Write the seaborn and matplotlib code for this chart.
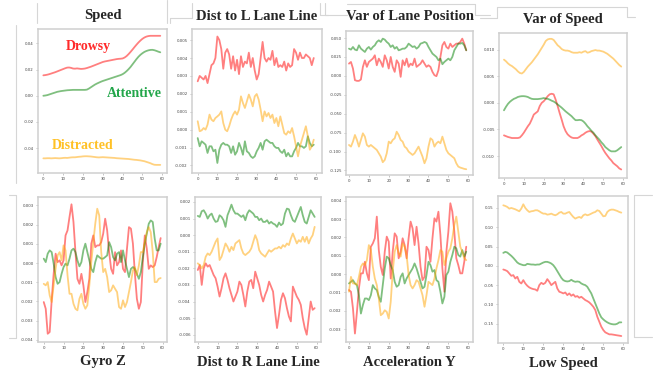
import numpy as np
import pandas as pd
import seaborn as sns
import matplotlib.pyplot as plt
from matplotlib.lines import Line2D

sns.set_style('white')
plt.rcParams['font.family'] = ['Liberation Serif', 'DejaVu Serif']
plt.rcParams['axes.unicode_minus'] = False

# 每个面板三条曲线：Drowsy(红) / Attentive(绿) / Distracted(橙)
speed_drowsy = [0.0156, 0.0158, 0.0161, 0.0165, 0.0170, 0.0175, 0.0180, 0.0186, 0.0192, 0.0198,
                0.0204, 0.0210, 0.0215, 0.0216, 0.0213, 0.0208, 0.0207, 0.0209, 0.0207, 0.0205,
                0.0206, 0.0208, 0.0212, 0.0217, 0.0222, 0.0228, 0.0234, 0.0240, 0.0246, 0.0252,
                0.0258, 0.0262, 0.0265, 0.0268, 0.0271, 0.0274, 0.0277, 0.0280, 0.0282, 0.0283,
                0.0285, 0.0292, 0.0303, 0.0318, 0.0335, 0.0353, 0.0372, 0.0390, 0.0407, 0.0422,
                0.0435, 0.0445, 0.0452, 0.0456, 0.0458, 0.0458, 0.0458, 0.0458, 0.0458, 0.0458]
speed_attentive = [0.0000, 0.0002, 0.0005, 0.0010, 0.0015, 0.0020, 0.0025, 0.0030, 0.0033, 0.0036,
                   0.0038, 0.0040, 0.0042, 0.0043, 0.0044, 0.0045, 0.0045, 0.0045, 0.0045, 0.0045,
                   0.0045, 0.0045, 0.0047, 0.0055, 0.0065, 0.0075, 0.0085, 0.0093, 0.0100, 0.0107,
                   0.0113, 0.0118, 0.0123, 0.0128, 0.0133, 0.0138, 0.0143, 0.0148, 0.0153, 0.0158,
                   0.0165, 0.0175, 0.0188, 0.0203, 0.0220, 0.0240, 0.0260, 0.0280, 0.0298, 0.0313,
                   0.0325, 0.0335, 0.0342, 0.0347, 0.0350, 0.0351, 0.0348, 0.0343, 0.0337, 0.0332]
speed_distracted = [-0.0478, -0.0478, -0.0477, -0.0477, -0.0478, -0.0477, -0.0476, -0.0477, -0.0478, -0.0477,
                    -0.0475, -0.0474, -0.0475, -0.0473, -0.0471, -0.0470, -0.0470, -0.0468, -0.0466, -0.0465,
                    -0.0463, -0.0462, -0.0462, -0.0463, -0.0464, -0.0466, -0.0468, -0.0470, -0.0471, -0.0470,
                    -0.0469, -0.0470, -0.0471, -0.0472, -0.0473, -0.0474, -0.0475, -0.0477, -0.0478, -0.0479,
                    -0.0480, -0.0481, -0.0482, -0.0483, -0.0485, -0.0487, -0.0489, -0.0490, -0.0492, -0.0494,
                    -0.0497, -0.0500, -0.0505, -0.0510, -0.0515, -0.0522, -0.0527, -0.0528, -0.0528, -0.0528]

distl_drowsy = [0.0027, 0.0030, 0.0029, 0.0028, 0.0030, 0.0026, 0.0031, 0.0036, 0.0037, 0.0040,
                0.0052, 0.0050, 0.0045, 0.0034, 0.0043, 0.0045, 0.0042, 0.0034, 0.0041, 0.0033,
                0.0039, 0.0031, 0.0041, 0.0035, 0.0038, 0.0037, 0.0043, 0.0035, 0.0040, 0.0033,
                0.0028, 0.0031, 0.0040, 0.0049, 0.0040, 0.0038, 0.0040, 0.0039, 0.0044, 0.0036,
                0.0040, 0.0035, 0.0036, 0.0035, 0.0038, 0.0033, 0.0037, 0.0035, 0.0036, 0.0045,
                0.0043, 0.0039, 0.0043, 0.0040, 0.0040, 0.0042, 0.0041, 0.0040, 0.0036, 0.0040]
distl_attentive = [-0.00047, -0.00093, -0.00065, -0.00074, -0.00084, -0.00130, -0.00093, -0.00093, -0.00121, -0.00112,
                   -0.00186, -0.00112, -0.00084, -0.00074, -0.00084, -0.00084, -0.00093, -0.00130, -0.00093, -0.00140,
                   -0.00121, -0.00074, -0.00102, -0.00140, -0.00065, -0.00121, -0.00130, -0.00149, -0.00158, -0.00149,
                   -0.00121, -0.00102, -0.00074, -0.00112, -0.00065, -0.00056, -0.00065, -0.00074, -0.00074, -0.00093,
                   -0.00102, -0.00102, -0.00121, -0.00130, -0.00112, -0.00149, -0.00130, -0.00149, -0.00149, -0.00121,
                   -0.00102, -0.00074, -0.00093, -0.00093, -0.00102, -0.00093, -0.00037, -0.00074, -0.00093, -0.00084]
distl_distracted = [0.00047, -0.00009, -0.00004, 0.00009, 0.00000, 0.00028, 0.00084, 0.00056, 0.00047, 0.00065,
                    0.00074, 0.00084, 0.00102, 0.00037, 0.00000, -0.00009, 0.00019, 0.00056, 0.00084, 0.00102,
                    0.00084, 0.00112, 0.00186, 0.00149, 0.00121, 0.00158, 0.00196, 0.00168, 0.00130, 0.00186,
                    0.00199, 0.00168, 0.00112, 0.00047, 0.00102, 0.00074, 0.00093, 0.00065, 0.00084, 0.00037,
                    0.00065, 0.00019, 0.00074, 0.00028, -0.00019, -0.00028, -0.00009, -0.00019, 0.00009, -0.00037,
                    -0.00093, -0.00149, -0.00093, -0.00056, -0.00019, 0.00019, -0.00037, -0.00112, -0.00093, -0.00056]

varlane_drowsy = [0.0162, 0.0184, 0.0097, -0.0057, -0.0066, -0.0066, -0.0048, 0.0119, 0.0206, 0.0119,
                  0.0184, 0.0206, 0.0228, 0.0272, 0.0140, 0.0228, 0.0184, 0.0119, 0.0272, 0.0206,
                  0.0097, 0.0250, 0.0119, 0.0053, 0.0206, 0.0162, -0.0013, 0.0206, 0.0140, 0.0228,
                  0.0119, 0.0162, 0.0140, 0.0228, 0.0119, 0.0140, 0.0162, 0.0206, 0.0162, 0.0119,
                  0.0140, 0.0119, 0.0053, 0.0009, -0.0004, 0.0075, 0.0250, 0.0404, 0.0448, 0.0382,
                  0.0360, 0.0426, 0.0382, 0.0404, 0.0426, 0.0426, 0.0448, 0.0492, 0.0426, 0.0338]
varlane_attentive = [0.0360, 0.0347, 0.0382, 0.0347, 0.0338, 0.0404, 0.0360, 0.0338, 0.0316, 0.0360,
                     0.0382, 0.0347, 0.0382, 0.0404, 0.0448, 0.0470, 0.0448, 0.0492, 0.0479, 0.0448,
                     0.0426, 0.0382, 0.0404, 0.0360, 0.0382, 0.0338, 0.0347, 0.0360, 0.0360, 0.0382,
                     0.0426, 0.0404, 0.0382, 0.0391, 0.0360, 0.0382, 0.0426, 0.0435, 0.0448, 0.0435,
                     0.0382, 0.0338, 0.0294, 0.0272, 0.0250, 0.0206, 0.0228, 0.0154, 0.0184, 0.0206,
                     0.0228, 0.0206, 0.0250, 0.0338, 0.0382, 0.0426, 0.0426, 0.0435, 0.0404, 0.0338]
varlane_distracted = [-0.0913, -0.0935, -0.0869, -0.0781, -0.0847, -0.0935, -0.0847, -0.0759, -0.0803, -0.0913,
                      -0.0935, -0.0913, -0.0935, -0.0957, -0.0979, -0.1023, -0.1067, -0.1141, -0.1111, -0.1023,
                      -0.0869, -0.0891, -0.0847, -0.0825, -0.0738, -0.0781, -0.0847, -0.0869, -0.0935, -0.0957,
                      -0.1001, -0.1023, -0.1045, -0.1023, -0.0979, -0.0935, -0.1001, -0.1067, -0.1155, -0.1089,
                      -0.0935, -0.0825, -0.0847, -0.0935, -0.0891, -0.0869, -0.0891, -0.0803, -0.0891, -0.0979,
                      -0.1023, -0.1045, -0.1067, -0.1089, -0.1155, -0.1199, -0.1212, -0.1220, -0.1229, -0.1234]

varspeed_drowsy = [-0.0061, -0.00625, -0.0064, -0.0065, -0.0066, -0.0066, -0.0066, -0.0066, -0.0065, -0.0061,
                   -0.0056, -0.0050, -0.0044, -0.0039, -0.0031, -0.0022, -0.0019, -0.0016, -0.0006, 0.0000,
                   0.0003, 0.00075, 0.00125, 0.0016, 0.0017, 0.0016, 0.0006, -0.0006, -0.0019, -0.0031,
                   -0.0044, -0.0053, -0.0059, -0.00625, -0.0065, -0.0066, -0.0066, -0.0066, -0.0064, -0.0061,
                   -0.0059, -0.0056, -0.0054, -0.0053, -0.0054, -0.0058, -0.00625, -0.0069, -0.0075, -0.0081,
                   -0.0088, -0.0094, -0.0099, -0.0104, -0.0108, -0.0113, -0.0116, -0.0119, -0.0123, -0.0125]
varspeed_attentive = [-0.0014, -0.00075, -0.0002, 0.0002, 0.0005, 0.00075, 0.0009, 0.0011, 0.0012, 0.00125,
                      0.00125, 0.0012, 0.0011, 0.0009, 0.00075, 0.0007, 0.0007, 0.0007, 0.00075, 0.0008,
                      0.0009, 0.0008, 0.00075, 0.0006, 0.0004, 0.00025, 0.0000, -0.0003, -0.0006, -0.0009,
                      -0.00125, -0.0016, -0.0019, -0.0022, -0.0025, -0.0029, -0.00325, -0.00325, -0.0032, -0.00325,
                      -0.0035, -0.0039, -0.0044, -0.0048, -0.00525, -0.0056, -0.0061, -0.0065, -0.0069, -0.0074,
                      -0.0078, -0.0083, -0.0086, -0.0089, -0.0091, -0.0091, -0.0091, -0.0089, -0.0086, -0.0083]
varspeed_distracted = [0.0081, 0.0078, 0.0074, 0.0071, 0.0069, 0.0066, 0.0063, 0.0059, 0.0056, 0.0055,
                       0.0058, 0.0063, 0.0068, 0.0072, 0.0076, 0.0081, 0.0086, 0.0091, 0.0097, 0.0103,
                       0.0109, 0.0116, 0.0119, 0.0120, 0.0120, 0.0118, 0.0113, 0.0108, 0.0105, 0.0101,
                       0.0099, 0.0098, 0.0098, 0.0097, 0.0095, 0.0094, 0.0094, 0.0094, 0.0095, 0.0094,
                       0.0096, 0.0097, 0.0094, 0.0095, 0.0097, 0.0098, 0.0099, 0.0098, 0.0098, 0.0097,
                       0.0096, 0.0094, 0.0092, 0.0089, 0.0086, 0.0083, 0.0079, 0.0075, 0.0071, 0.0068]

gyro_drowsy = [-0.00203, -0.00238, -0.00368, -0.00359, -0.00194, -0.00056, 0.00049, 0.00005, 0.00014, -0.00012,
               0.00014, 0.00144, 0.00170, 0.00240, 0.00306, 0.00214, 0.00057, -0.00082, -0.00108, -0.00056,
               -0.00116, -0.00203, -0.00151, -0.00082, 0.00101, 0.00144, 0.00083, 0.00092, 0.00092, 0.00109,
               0.00153, 0.00231, 0.00170, 0.00057, -0.00030, -0.00056, 0.00057, -0.00012, 0.00005, 0.00066,
               -0.00030, -0.00047, 0.00075, 0.00187, 0.00179, 0.00101, -0.00056, -0.00186, -0.00238, -0.00203,
               0.00005, 0.00144, 0.00075, -0.00030, -0.00012, -0.00021, -0.00012, 0.00031, 0.00083, 0.00130]
gyro_attentive = [0.00023, 0.00005, 0.00049, 0.00066, 0.00057, -0.00003, -0.00073, -0.00108, -0.00099, -0.00056,
                  -0.00021, -0.00003, -0.00012, 0.00023, 0.00066, 0.00075, 0.00057, 0.00014, -0.00017, 0.00005,
                  0.00066, 0.00101, 0.00057, 0.00014, -0.00030, -0.00047, 0.00005, 0.00040, 0.00031, 0.00023,
                  0.00023, 0.00031, 0.00040, 0.00109, 0.00083, 0.00031, 0.00014, 0.00049, 0.00057, 0.00005,
                  0.00066, 0.00014, -0.00030, -0.00073, -0.00030, -0.00021, -0.00030, -0.00056, -0.00082, -0.00047,
                  0.00031, 0.00101, 0.00153, 0.00205, 0.00222, 0.00214, 0.00127, 0.00066, 0.00066, 0.00101]
gyro_distracted = [-0.00108, -0.00116, -0.00099, -0.00168, -0.00203, -0.00116, -0.00030, 0.00040, 0.00057, 0.00014,
                   0.00092, 0.00066, -0.00064, -0.00160, -0.00160, -0.00212, -0.00238, -0.00246, -0.00186, -0.00160,
                   -0.00212, -0.00238, -0.00220, -0.00116, 0.00005, 0.00109, 0.00205, 0.00283, 0.00248, 0.00057,
                   -0.00047, -0.00030, -0.00073, -0.00151, -0.00142, -0.00116, -0.00134, -0.00151, -0.00229, -0.00238,
                   -0.00194, -0.00229, -0.00203, -0.00151, -0.00099, -0.00038, -0.00021, -0.00064, -0.00012, 0.00057,
                   0.00057, 0.00109, 0.00161, 0.00187, 0.00161, 0.00057, -0.00099, -0.00099, -0.00082, -0.00078]

distr_drowsy = [-0.0021, -0.0018, -0.0030, -0.0020, -0.0017, -0.0019, -0.0018, -0.0021, -0.0024, -0.0026,
                -0.0031, -0.0037, -0.0032, -0.0026, -0.0023, -0.0027, -0.0032, -0.0036, -0.0040, -0.0037,
                -0.0034, -0.0028, -0.0030, -0.0036, -0.0043, -0.0034, -0.0028, -0.0027, -0.0032, -0.0022,
                -0.0026, -0.0030, -0.0036, -0.0040, -0.0036, -0.0033, -0.0028, -0.0031, -0.0034, -0.0046,
                -0.0056, -0.0048, -0.0039, -0.0035, -0.0038, -0.0044, -0.0049, -0.0052, -0.0031, -0.0034,
                -0.0037, -0.0039, -0.0042, -0.0050, -0.0056, -0.0060, -0.0050, -0.0040, -0.0045, -0.0044]
distr_attentive = [0.00116, 0.0011, 0.00144, 0.0015, 0.0013, 0.0010, 0.0012, 0.0013, 0.0010, 0.0008,
                   0.00084, 0.0012, 0.0011, 0.0009, 0.0005, 0.0012, 0.0015, 0.00184, 0.0015, 0.0013,
                   0.0013, 0.0012, 0.0011, 0.0012, 0.0009, 0.0013, 0.0015, 0.0014, 0.0013, 0.0011,
                   0.0011, 0.0009, 0.0010, 0.0008, 0.0008, 0.0009, 0.0007, 0.0008, 0.0007, 0.00064,
                   0.0005, 0.00076, 0.0006, 0.0007, 0.0013, 0.0016, 0.00156, 0.0012, 0.0009, 0.0008,
                   0.0011, 0.0014, 0.0017, 0.0012, 0.0008, 0.0007, 0.0011, 0.0015, 0.0013, 0.0011]
distr_distracted = [-0.0017, -0.0018, -0.0020, -0.0018, -0.0013, -0.0011, -0.0012, -0.0010, -0.0007, -0.0004,
                    -0.0002, -0.0015, -0.0013, -0.0009, -0.0005, -0.0007, -0.0010, -0.0007, -0.0009, -0.0005,
                    -0.0004, -0.0003, -0.0008, -0.0011, -0.0012, -0.0011, -0.0010, -0.0008, -0.0004, 0.0000,
                    -0.0003, -0.0009, -0.0011, -0.0012, -0.0013, -0.0011, -0.0009, -0.0010, -0.0009, -0.0008,
                    -0.0008, -0.0007, -0.0008, -0.0006, -0.0007, -0.0005, -0.0006, -0.0002, 0.0001, -0.0002,
                    -0.0005, -0.0003, -0.0004, -0.0001, -0.0004, -0.0001, -0.0005, -0.0002, 0.0000, 0.0005]

accy_drowsy = [-0.00087, -0.00096, -0.00187, -0.00324, -0.00206, -0.00078, 0.00004, 0.00004, 0.00067, 0.00004,
               -0.00033, 0.00149, 0.00167, 0.00195, 0.00313, 0.00131, 0.00040, -0.00005, 0.00122, 0.00204,
               0.00177, -0.00024, 0.00122, 0.00222, 0.00204, 0.00086, 0.00122, 0.00195, 0.00158, 0.00086,
               0.00195, 0.00286, 0.00249, 0.00158, 0.00258, 0.00167, 0.00040, -0.00033, -0.00015, 0.00149,
               0.00131, 0.00067, 0.00195, 0.00304, 0.00286, 0.00340, 0.00213, 0.00031, -0.00096, 0.00122,
               0.00231, 0.00386, 0.00340, 0.00231, 0.00086, 0.00049, 0.00004, 0.00004, 0.00067, 0.00149]
accy_attentive = [-0.00051, -0.00042, -0.00033, -0.00051, -0.00060, -0.00115, -0.00215, -0.00169, -0.00133, -0.00133,
                  -0.00142, -0.00115, -0.00060, -0.00078, -0.00087, -0.00124, -0.00151, -0.00060, 0.00031, 0.00095,
                  0.00086, 0.00049, 0.00022, -0.00042, -0.00069, -0.00060, -0.00015, 0.00004, -0.00051, -0.00024,
                  -0.00005, 0.00013, 0.00031, 0.00058, 0.00031, -0.00005, -0.00042, -0.00078, -0.00069, -0.00005,
                  0.00067, 0.00049, 0.00013, 0.00022, -0.00033, -0.00042, -0.00096, -0.00160, -0.00124, -0.00005,
                  0.00013, 0.00067, 0.00104, 0.00149, 0.00140, 0.00104, 0.00095, 0.00131, 0.00095, 0.00122]
accy_distracted = [-0.00096, -0.00015, -0.00051, -0.00051, -0.00060, -0.00015, 0.00040, 0.00058, 0.00049, 0.00076,
                   0.00158, 0.00131, 0.00040, -0.00024, -0.00060, -0.00133, -0.00224, -0.00215, -0.00197, -0.00206,
                   -0.00242, -0.00151, 0.00013, 0.00122, 0.00158, 0.00113, 0.00095, 0.00167, 0.00149, 0.00104,
                   -0.00005, -0.00060, -0.00078, -0.00060, -0.00033, -0.00042, -0.00078, -0.00115, -0.00178, -0.00115,
                   -0.00042, -0.00051, -0.00060, -0.00024, 0.00031, 0.00076, 0.00131, 0.00122, 0.00049, 0.00086,
                   0.00122, 0.00140, 0.00195, 0.00268, 0.00313, 0.00231, 0.00149, 0.00122, 0.00086, 0.00076]

lowspd_drowsy = [-0.0095, -0.0112, -0.0138, -0.0198, -0.0259, -0.0241, -0.0328, -0.0284, -0.0414, -0.0457,
                 -0.0371, -0.0457, -0.0517, -0.0560, -0.0586, -0.0603, -0.0612, -0.0646, -0.0500, -0.0440,
                 -0.0474, -0.0440, -0.0345, -0.0414, -0.0500, -0.0457, -0.0414, -0.0586, -0.0672, -0.0690,
                 -0.0715, -0.0690, -0.0759, -0.0715, -0.0776, -0.0741, -0.0802, -0.0784, -0.0828, -0.0802,
                 -0.0845, -0.0888, -0.0914, -0.0948, -0.1000, -0.1060, -0.1146, -0.1319, -0.1448, -0.1577,
                 -0.1664, -0.1724, -0.1750, -0.1776, -0.1776, -0.1784, -0.1793, -0.1802, -0.1810, -0.1819]
lowspd_attentive = [0.0336, 0.0362, 0.0345, 0.0302, 0.0259, 0.0207, 0.0147, 0.0086, 0.0052, 0.0034,
                    0.0017, 0.0017, 0.0052, 0.0043, 0.0034, 0.0034, 0.0026, 0.0034, 0.0034, 0.0060,
                    0.0086, 0.0103, 0.0103, 0.0086, 0.0060, 0.0017, -0.0052, -0.0138, -0.0224, -0.0310,
                    -0.0371, -0.0396, -0.0405, -0.0396, -0.0362, -0.0396, -0.0414, -0.0405, -0.0414, -0.0457,
                    -0.0483, -0.0500, -0.0543, -0.0629, -0.0715, -0.0845, -0.0974, -0.1103, -0.1233, -0.1336,
                    -0.1388, -0.1431, -0.1465, -0.1491, -0.1508, -0.1517, -0.1517, -0.1500, -0.1465, -0.1465]
lowspd_distracted = [0.1569, 0.1552, 0.1526, 0.1483, 0.1500, 0.1483, 0.1465, 0.1440, 0.1414, 0.1483,
                     0.1595, 0.1500, 0.1440, 0.1396, 0.1414, 0.1422, 0.1440, 0.1440, 0.1414, 0.1379,
                     0.1353, 0.1353, 0.1327, 0.1336, 0.1353, 0.1327, 0.1310, 0.1336, 0.1379, 0.1396,
                     0.1353, 0.1353, 0.1379, 0.1396, 0.1327, 0.1267, 0.1224, 0.1250, 0.1267, 0.1241,
                     0.1310, 0.1336, 0.1310, 0.1327, 0.1353, 0.1379, 0.1396, 0.1440, 0.1422, 0.1353,
                     0.1284, 0.1293, 0.1396, 0.1440, 0.1457, 0.1457, 0.1440, 0.1422, 0.1396, 0.1379]

titles = ['Speed', 'Dist to L Lane Line', 'Var of Lane Position', 'Var of Speed',
          'Gyro Z', 'Dist to R Lane Line', 'Acceleration Y', 'Low Speed']
series = [(speed_drowsy, speed_attentive, speed_distracted),
          (distl_drowsy, distl_attentive, distl_distracted),
          (varlane_drowsy, varlane_attentive, varlane_distracted),
          (varspeed_drowsy, varspeed_attentive, varspeed_distracted),
          (gyro_drowsy, gyro_attentive, gyro_distracted),
          (distr_drowsy, distr_attentive, distr_distracted),
          (accy_drowsy, accy_attentive, accy_distracted),
          (lowspd_drowsy, lowspd_attentive, lowspd_distracted)]
yticks = [[-0.04, -0.02, 0.0, 0.02, 0.04],
          [-0.002, -0.001, 0.0, 0.001, 0.002, 0.003, 0.004, 0.005],
          [-0.125, -0.1, -0.075, -0.05, -0.025, 0.0, 0.025, 0.05],
          [-0.01, -0.005, 0.0, 0.005, 0.01],
          [-0.004, -0.003, -0.002, -0.001, 0.0, 0.001, 0.002, 0.003],
          [-0.006, -0.005, -0.004, -0.003, -0.002, -0.001, 0.0, 0.001, 0.002],
          [-0.003, -0.002, -0.001, 0.0, 0.001, 0.002, 0.003, 0.004],
          [-0.15, -0.10, -0.05, 0.0, 0.05, 0.10, 0.15]]
ylims = [(-0.059, 0.051), (-0.00242, 0.00562), (-0.131, 0.0593), (-0.0141, 0.0131),
         (-0.00411, 0.00344), (-0.00644, 0.0023), (-0.0037, 0.0042), (-0.2, 0.181)]
xlims = [(-2.7, 62.4), (-2.9, 63.2), (-1.5, 62.4), (-2.5, 61.9),
         (-2.9, 62.2), (-1.4, 62.2), (-1.5, 62.4), (-2.65, 62.35)]

W, H = 653, 375
# 每个子图在画布上的像素框：左、上、右、下
boxes = [(38, 29, 167, 173), (192, 29, 322, 173), (346, 31, 473, 175), (499, 33, 627, 178),
         (38, 197, 167, 342), (195, 197, 321, 342), (346, 197, 473, 342), (498, 196, 628, 343)]
title_y = [16, 16, 17, 20, 362, 362, 363, 363]

colors = ['red', 'green', 'orange']

fig = plt.figure(figsize=(W / 100, H / 100), dpi=100)
x = np.arange(60)

for i, (l, t, r, b) in enumerate(boxes):
    ax = fig.add_axes([l / W, 1 - b / H, (r - l) / W, (b - t) / H])
    for vals, c in zip(series[i], colors):
        sns.lineplot(x=x[:len(vals)], y=vals, ax=ax, color=c, alpha=0.5, linewidth=1.3)
    ax.set_xlim(*xlims[i])
    ax.set_ylim(*ylims[i])
    ax.set_xticks([0, 10, 20, 30, 40, 50, 60])
    ax.set_yticks(yticks[i])
    ax.tick_params(labelsize=2.8, labelcolor='#444444', length=1.5, width=0.4,
                   color='#999999', pad=1.5, left=True, bottom=True)
    for lbl in ax.get_xticklabels() + ax.get_yticklabels():
        lbl.set_family('DejaVu Sans')
    for sp in ax.spines.values():
        sp.set_color('#cfcfcf')
        sp.set_linewidth(1.1)
    ax.set_xlabel('')
    ax.set_ylabel('')
    fig.text((l + r) / 2 / W, 1 - title_y[i] / H, titles[i], ha='center', va='center',
             fontsize=10.5, fontweight='bold')
    if i == 0:
        ax.text(0.39, 0.88, 'Drowsy', transform=ax.transAxes, ha='center', va='center',
                color='#ff2a2a', fontsize=10, fontweight='bold')
        ax.text(0.75, 0.555, 'Attentive', transform=ax.transAxes, ha='center', va='center',
                color='#22a64a', fontsize=10, fontweight='bold')
        ax.text(0.35, 0.19, 'Distracted', transform=ax.transAxes, ha='center', va='center',
                color='#ffc125', fontsize=10, fontweight='bold')

# 截图残留的浅灰边框线
frame_lines = [
    [(16, 25), (16, 183)],
    [(37, 3), (37, 23)], [(167, 0), (167, 23)],
    [(170, 18), (192, 18)], [(170, 18), (170, 23)], [(192, 3), (192, 18)],
    [(320, 3), (320, 15)], [(320, 15), (328, 15)],
    [(325, 3), (325, 15)], [(325, 15), (347, 15)], [(347, 4), (475, 4)],
    [(475, 4), (475, 15)], [(475, 15), (490, 15)],
    [(480, 18), (497, 18)], [(497, 7), (497, 18)], [(497, 7), (627, 7)],
    [(627, 7), (627, 17)], [(627, 17), (635, 17)],
    [(9, 195), (16, 195)], [(16, 195), (16, 338)], [(9, 338), (16, 338)],
    [(634, 195), (652, 195)], [(634, 195), (634, 337)], [(634, 337), (652, 337)],
]
for (x0, y0), (x1, y1) in frame_lines:
    fig.add_artist(Line2D([x0 / W, x1 / W], [1 - y0 / H, 1 - y1 / H],
                          transform=fig.transFigure, color='#d6d6d6', linewidth=0.8))

fig.savefig('out.png', dpi=100)
